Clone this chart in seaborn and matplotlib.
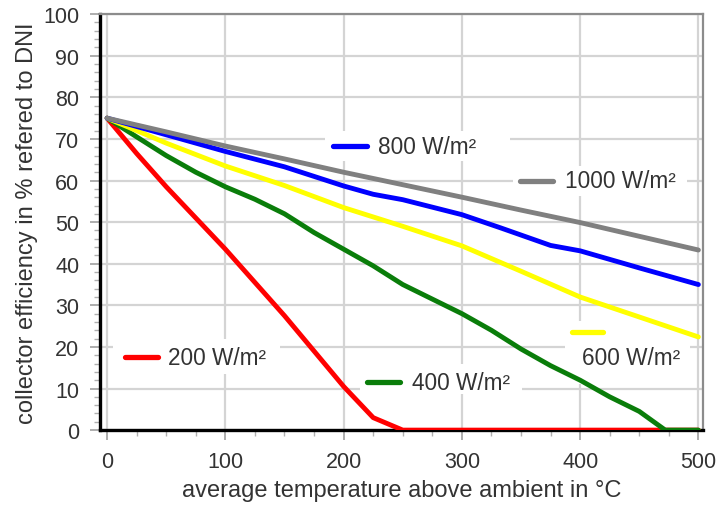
import matplotlib
matplotlib.use("Agg")
import matplotlib.pyplot as plt
import seaborn as sns
import pandas as pd
from matplotlib.patches import Rectangle
from matplotlib.ticker import MultipleLocator

# Collector efficiency curves (% of DNI) versus mean temperature above ambient (°C)
temp_200 = [0, 25, 50, 75, 100, 125, 150, 175, 200, 225, 250, 500]
eff_200 = [75, 66.5, 58.5, 51, 43.5, 35.5, 27.5, 19, 10.5, 3, 0, 0]

temp_400 = [0, 25, 50, 75, 100, 125, 150, 175, 200, 225, 250, 275, 300, 325,
            350, 375, 400, 425, 450, 472, 500]
eff_400 = [75, 70.5, 66, 62, 58.5, 55.5, 52, 47.5, 43.5, 39.5, 35, 31.5, 28,
           24, 19.5, 15.5, 12, 8, 4.5, 0, 0]

temp_600 = [0, 50, 100, 150, 200, 250, 300, 350, 400, 450, 500]
eff_600 = [75, 69, 63.5, 58.8, 53.5, 49, 44.3, 38.2, 32, 27.2, 22.4]

temp_800 = [0, 50, 100, 150, 200, 225, 250, 300, 333, 375, 400, 450, 500]
eff_800 = [75, 71, 67, 63.3, 58.7, 56.7, 55.4, 51.8, 48.6, 44.4, 43.1, 39, 35]

temp_1000 = [0, 50, 100, 150, 200, 250, 300, 350, 400, 450, 500]
eff_1000 = [75, 71.7, 68.3, 65.2, 62, 59, 56, 52.9, 49.9, 46.6, 43.3]

series_names = ["200 W/m²", "400 W/m²", "600 W/m²", "800 W/m²", "1000 W/m²"]
series_colors = ["#ff0000", "#0a7d0a", "#ffff00", "#0000ff", "#808080"]

frames = []
for name, xs, ys in zip(series_names,
                        [temp_200, temp_400, temp_600, temp_800, temp_1000],
                        [eff_200, eff_400, eff_600, eff_800, eff_1000]):
    frames.append(pd.DataFrame({"temp": xs, "eff": ys, "irradiance": name}))
df = pd.concat(frames, ignore_index=True)

sns.set_theme(style="white")
plt.rcParams["font.family"] = ["Liberation Sans", "DejaVu Sans"]

fig = plt.figure(figsize=(7.16, 5.06), dpi=100)
ax = fig.add_axes([0.1397, 0.148, 0.8423, 0.822])

sns.lineplot(data=df, x="temp", y="eff", hue="irradiance",
             hue_order=series_names, palette=series_colors,
             sort=False, estimator=None, linewidth=3.5, legend=False,
             ax=ax, zorder=3)

ax.set_xlim(-6, 504)
ax.set_ylim(0, 100)
ax.xaxis.set_major_locator(MultipleLocator(100))
ax.xaxis.set_minor_locator(MultipleLocator(25))
ax.yaxis.set_major_locator(MultipleLocator(10))
ax.yaxis.set_minor_locator(MultipleLocator(2))
ax.grid(True, which="major", color="#d4d4d4", linewidth=1.6, zorder=0)
ax.set_axisbelow(True)

ax.tick_params(which="major", direction="out", length=7, width=1.2,
               color="#a0a0a0", labelsize=15.5, labelcolor="#333333", pad=8)
ax.tick_params(which="minor", direction="out", length=4, width=1.0,
               color="#b0b0b0")
ax.tick_params(axis="x", which="both", bottom=True)
ax.tick_params(axis="y", which="both", left=True)

for side in ("left", "bottom"):
    ax.spines[side].set_color("black")
    ax.spines[side].set_linewidth(2.4)
for side in ("top", "right"):
    ax.spines[side].set_color("#8c8c8c")
    ax.spines[side].set_linewidth(1.6)

ax.set_xlabel("average temperature above ambient in °C", fontsize=17,
              color="#333333", labelpad=5)
ax.set_ylabel("collector efficiency in % refered to DNI", fontsize=17,
              color="#333333", labelpad=4)

# Curve keys: white panel, short coloured dash and caption
keys = [
    # name, panel (x0, y0, x1, y1), dash (x0, x1, y), caption (x, y)
    ("800 W/m²", (184, 64.7, 341, 71.9), (191, 220, 68.3), (229, 68.3)),
    ("1000 W/m²", (343, 56.3, 490, 63.5), (349, 377, 59.9), (387, 59.9)),
    ("200 W/m²", (5, 13.5, 146, 21.9), (15, 43, 17.5), (51.6, 17.5)),
    ("400 W/m²", (214, 8.7, 351, 15.9), (220, 248, 11.5), (258, 11.5)),
    ("600 W/m²", (387, 11, 493, 26.2), (393, 419, 23.6), (402, 17.5)),
]
for name, panel, dash, caption in keys:
    color = series_colors[series_names.index(name)]
    x0, y0, x1, y1 = panel
    ax.add_patch(Rectangle((x0, y0), x1 - x0, y1 - y0, facecolor="white",
                           edgecolor="none", zorder=1))
    ax.plot([dash[0], dash[1]], [dash[2], dash[2]], color=color,
            linewidth=3.8, solid_capstyle="round", zorder=4)
    ax.text(caption[0], caption[1], name, fontsize=16.3, color="#333333",
            ha="left", va="center", zorder=4)

fig.savefig("out.png", dpi=100)
